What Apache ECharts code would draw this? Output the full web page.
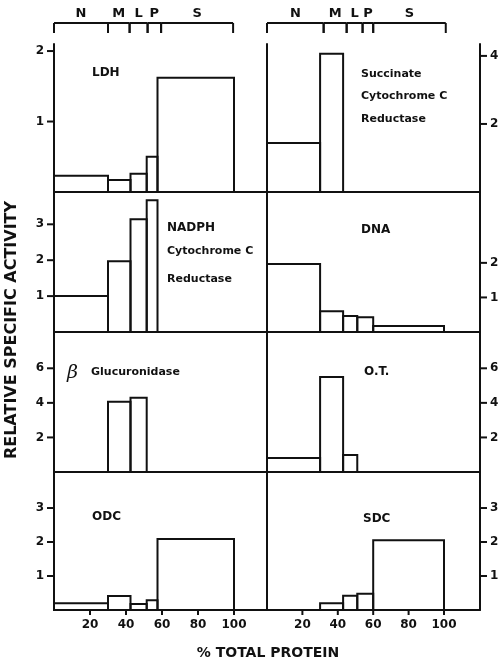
<!DOCTYPE html>
<html>
<head>
<meta charset="utf-8">
<script src="https://cdn.jsdelivr.net/npm/echarts@6/dist/echarts.min.js"></script>
<style>
html,body{margin:0;padding:0;background:#fff;}
#c{width:504px;height:663px;}
</style>
</head>
<body>
<div id="c"></div>
<script>
// ---- data ----
const fractions = ['N', 'M', 'L', 'P', 'S'];
// cumulative % total protein boundaries of the fractions
const bracketEdgesLeft  = [0, 30, 42, 52, 59.5, 99.5];
const bracketEdgesRight = [0, 32, 45, 54, 60, 101];
const barEdgesLeft  = [0, 30, 42.5, 51.5, 57.5, 100];
const barEdgesRight = [0, 30, 43, 51, 60, 100];

// relative specific activity per fraction (N, M, L, P, S)
const LDH        = [0.23, 0.17, 0.26, 0.50, 1.62];
const succinate  = [1.44, 4.06, 0, 0, 0];
const NADPH      = [1.00, 1.97, 3.14, 3.67, 0];
const DNA        = [1.97, 0.60, 0.46, 0.43, 0.17];
const glucuron   = [0, 4.06, 4.29, 0, 0];
const OT         = [0.81, 5.50, 0.99, 0, 0];
const ODC        = [0.20, 0.41, 0.18, 0.29, 2.09];
const SDC        = [0, 0.20, 0.42, 0.48, 2.05];

const xTickLabels = [20, 40, 60, 80, 100];
const yTicksLDH = [1, 2];
const yTicksSuccinate = [2, 4];
const yTicksNADPH = [1, 2, 3];
const yTicksDNA = [1, 2];
const yTicksGlucuron = [2, 4, 6];
const yTicksOT = [2, 4, 6];
const yTicksODC = [1, 2, 3];
const yTicksSDC = [1, 2, 3];

// ---- layout ----
const FONT = '"DejaVu Sans"';
const rowTops = [44, 192, 332, 472];
const rowBottoms = [192, 332, 472, 610];
const colLeft = [54, 267];
const colWidth = 213;
const colXMax = [213 / 1.8, 213 / 1.77];
const rowYMax = [[2.1, 4.35], [3.9, 4.05], [8.1, 8.1], [4.06, 4.06]];

const panels = [
  {row: 0, col: 0, vals: LDH, ticks: yTicksLDH},
  {row: 0, col: 1, vals: succinate, ticks: yTicksSuccinate},
  {row: 1, col: 0, vals: NADPH, ticks: yTicksNADPH},
  {row: 1, col: 1, vals: DNA, ticks: yTicksDNA},
  {row: 2, col: 0, vals: glucuron, ticks: yTicksGlucuron},
  {row: 2, col: 1, vals: OT, ticks: yTicksOT},
  {row: 3, col: 0, vals: ODC, ticks: yTicksODC},
  {row: 3, col: 1, vals: SDC, ticks: yTicksSDC}
];

const grid = [], xAxis = [], yAxis = [], series = [];
const lineStyle = {color: '#111', width: 2};
const labelStyle = {color: '#111', fontFamily: 'DejaVu Sans', fontWeight: 'bold', fontSize: 12};

panels.forEach((p, i) => {
  grid.push({left: colLeft[p.col], width: colWidth, top: rowTops[p.row],
             height: rowBottoms[p.row] - rowTops[p.row], containLabel: false});
  const bottomRow = p.row === 3;
  xAxis.push({
    gridIndex: i, type: 'value', min: 0, max: colXMax[p.col], position: 'bottom',
    axisLine: {show: true, lineStyle: lineStyle, onZero: false},
    axisTick: {show: false},
    axisLabel: Object.assign({show: bottomRow, margin: 9, customValues: xTickLabels}, labelStyle),
    splitLine: {show: false}
  });
  yAxis.push({
    gridIndex: i, type: 'value', min: 0, max: rowYMax[p.row][p.col],
    position: p.col === 0 ? 'left' : 'right',
    axisLine: {show: true, lineStyle: lineStyle, onZero: false},
    axisTick: {show: false},
    axisLabel: Object.assign({show: true, margin: 10, customValues: p.ticks}, labelStyle),
    splitLine: {show: false}
  });
  const edges = p.col === 0 ? barEdgesLeft : barEdgesRight;
  const data = p.vals.map((v, k) => [edges[k], edges[k + 1], v]).filter(d => d[2] > 0);
  series.push({
    type: 'custom', xAxisIndex: i, yAxisIndex: i, data: data, clip: false,
    renderItem: function (params, api) {
      const a = api.coord([api.value(0), api.value(2)]);
      const b = api.coord([api.value(1), 0]);
      return {type: 'rect', shape: {x: a[0], y: a[1], width: b[0] - a[0], height: b[1] - a[1]},
              style: {fill: 'none', stroke: '#111', lineWidth: 2}};
    }
  });
  // y tick marks (outward)
  const xEdge = p.col === 0 ? 0 : colXMax[p.col];
  const dir = p.col === 0 ? -1 : 1;
  series.push({
    type: 'custom', xAxisIndex: i, yAxisIndex: i, clip: false, silent: true, z: 10,
    data: p.ticks.map(v => [xEdge, v]),
    renderItem: function (params, api) {
      const c = api.coord([api.value(0), api.value(1)]);
      return {type: 'line', shape: {x1: c[0], y1: c[1], x2: c[0] + dir * 7, y2: c[1]},
              style: {stroke: '#111', lineWidth: 2}};
    }
  });
  // x tick marks on the bottom row (outward)
  if (bottomRow) {
    series.push({
      type: 'custom', xAxisIndex: i, yAxisIndex: i, clip: false, silent: true, z: 10,
      data: xTickLabels.map(v => [v, 0]),
      renderItem: function (params, api) {
        const c = api.coord([api.value(0), api.value(1)]);
        return {type: 'line', shape: {x1: c[0], y1: c[1], x2: c[0], y2: c[1] + 5},
                style: {stroke: '#111', lineWidth: 2}};
      }
    });
  }
});

// middle divider: left edge line of right-column panels
panels.forEach((p, i) => {
  if (p.col === 1) {
    yAxis.push({gridIndex: i, type: 'value', min: 0, max: rowYMax[p.row][p.col], position: 'left',
      axisLine: {show: true, lineStyle: lineStyle, onZero: false},
      axisTick: {show: false}, axisLabel: {show: false}, splitLine: {show: false}});
  }
});

// fraction brackets on top
[bracketEdgesLeft, bracketEdgesRight].forEach((edges, c) => {
  const gi = grid.length;
  grid.push({left: colLeft[c], width: colWidth, top: 23, height: 10});
  xAxis.push({gridIndex: gi, type: 'value', min: 0, max: colXMax[c], show: false});
  yAxis.push({gridIndex: gi, type: 'value', min: 0, max: 1, show: false});
  series.push({
    type: 'custom', xAxisIndex: gi, yAxisIndex: yAxis.length - 1, clip: false,
    data: fractions.map((f, k) => [edges[k], edges[k + 1], f]),
    renderItem: function (params, api) {
      const s = api.value(0), e = api.value(1);
      const name = fractions[params.dataIndex];
      const a = api.coord([s, 1]), b = api.coord([e, 1]);
      const a0 = api.coord([s, 0]), b0 = api.coord([e, 0]);
      return {type: 'group', children: [
        {type: 'line', shape: {x1: a[0], y1: a[1], x2: b[0], y2: b[1]}, style: {stroke: '#111', lineWidth: 2}},
        {type: 'line', shape: {x1: a[0], y1: a[1], x2: a0[0], y2: a0[1]}, style: {stroke: '#111', lineWidth: 2}},
        {type: 'line', shape: {x1: b[0], y1: b[1], x2: b0[0], y2: b0[1]}, style: {stroke: '#111', lineWidth: 2}},
        {type: 'text', x: (a[0] + b[0]) / 2, y: a[1] - 9,
         style: {text: name, fill: '#111', font: 'bold 13px ' + FONT, align: 'center', verticalAlign: 'middle'}}
      ]};
    }
  });
});

function txt(x, y, s, size) {
  return {type: 'text', x: x, y: y,
    style: {text: s, fill: '#111', font: 'bold ' + (size || 11) + 'px ' + FONT, verticalAlign: 'middle'}};
}

const graphic = [
  txt(92, 73, 'LDH', 12),
  txt(361, 74, 'Succinate'), txt(361, 96, 'Cytochrome C'), txt(361, 119, 'Reductase'),
  txt(167, 228, 'NADPH', 12), txt(167, 251, 'Cytochrome C'), txt(167, 279, 'Reductase'),
  txt(361, 230, 'DNA', 12),
  {type: 'text', x: 67, y: 373, style: {text: 'β', fill: '#111', font: 'italic 19px "DejaVu Serif"', verticalAlign: 'middle'}},
  txt(91, 372, 'Glucuronidase'),
  txt(364, 372, 'O.T.', 12),
  txt(92, 517, 'ODC', 12),
  txt(363, 519, 'SDC', 12),
  {type: 'text', x: 268, y: 653, style: {text: '% TOTAL PROTEIN', fill: '#111', font: 'bold 14px ' + FONT, align: 'center', verticalAlign: 'middle'}},
  {type: 'text', x: 12, y: 330, rotation: Math.PI / 2,
   style: {text: 'RELATIVE SPECIFIC ACTIVITY', fill: '#111', font: 'bold 16px ' + FONT, align: 'center', verticalAlign: 'middle'}}
];

const chart = echarts.init(document.getElementById('c'), null, {renderer: 'canvas'});
chart.setOption({
  backgroundColor: '#fff',
  animation: false,
  grid: grid, xAxis: xAxis, yAxis: yAxis, series: series, graphic: graphic
});
</script>
</body>
</html>
